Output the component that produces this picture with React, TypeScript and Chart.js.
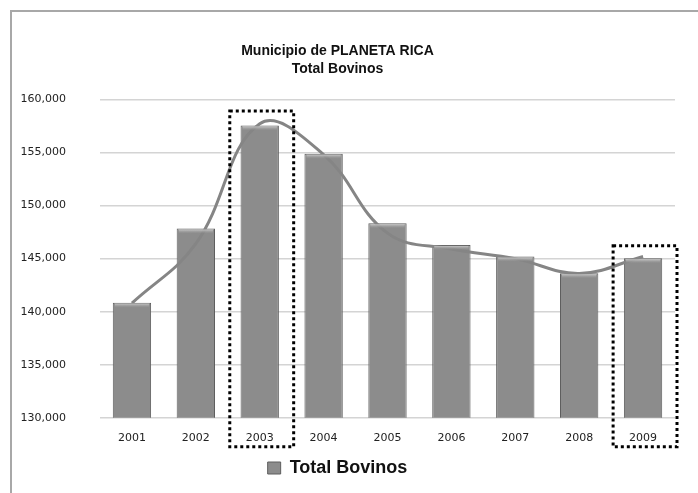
import React, { useEffect, useRef } from "react";
import { Chart, registerables } from "chart.js";

Chart.register(...registerables);

const categories = ["2001", "2002", "2003", "2004", "2005", "2006", "2007", "2008", "2009"];
const totalBovinos = [140850, 147830, 157550, 154880, 148330, 146290, 145190, 143615, 145030];
const trendValues = [140800, 146400, 157700, 154800, 147400, 145900, 145000, 143600, 145200];
const yMin = 130000;
const yMax = 160000;
const yStep = 5000;
const highlightedYears = ["2003", "2009"];
const highlightTops = [158900, 146200];
const titleLines = ["Municipio de PLANETA RICA", "Total Bovinos"];

const barTopPlugin = {
  id: "barTop",
  afterDatasetsDraw(chart: any) {
    const meta = chart.getDatasetMeta(0);
    const ctx = chart.ctx;
    ctx.save();
    meta.data.forEach((bar: any) => {
      const { x, y, width } = bar.getProps(["x", "y", "width"], true);
      const g = ctx.createLinearGradient(0, y, 0, y + 5);
      g.addColorStop(0, "#e0e0e0");
      g.addColorStop(1, "rgba(160,160,160,0)");
      ctx.fillStyle = g;
      ctx.fillRect(x - width / 2 + 2, y + 1, width - 4, 5);
    });
    ctx.restore();
  },
};

const highlightPlugin = {
  id: "highlightBoxes",
  afterDraw(chart: any) {
    const xs = chart.scales.x;
    const ys = chart.scales.y;
    const ctx = chart.ctx;
    const catW = (xs.right - xs.left) / categories.length;
    ctx.save();
    ctx.strokeStyle = "#000";
    ctx.lineWidth = 3;
    ctx.setLineDash([3, 3]);
    highlightedYears.forEach((yr, i) => {
      const idx = categories.indexOf(yr);
      const cx = xs.getPixelForValue(idx);
      const left = cx - catW / 2 + 2;
      const right = cx + catW / 2 + 2;
      const top = ys.getPixelForValue(highlightTops[i]);
      const bottom = ys.bottom + 29;
      ctx.strokeRect(left, top, right - left, bottom - top);
    });
    ctx.restore();
  },
};

export default function App() {
  const ref = useRef<HTMLCanvasElement | null>(null);
  useEffect(() => {
    if (!ref.current) return;
    const chart = new Chart(ref.current, {
      type: "bar",
      data: {
        labels: categories,
        datasets: [
          {
            type: "bar",
            label: "Total Bovinos",
            data: totalBovinos,
            backgroundColor: "#8c8c8c",
            borderColor: "#5e5e5e",
            borderWidth: 1,
            barPercentage: 0.6,
            categoryPercentage: 1,
            order: 2,
          },
          {
            type: "line",
            label: "Tendencia",
            data: trendValues,
            borderColor: "#858585",
            borderWidth: 3,
            pointRadius: 0,
            tension: 0.4,
            fill: false,
            order: 0,
          } as any,
        ],
      },
      options: {
        responsive: false,
        animation: false,
        devicePixelRatio: 1,
        layout: { padding: { left: 0, right: 23, top: 0, bottom: 6 } },
        plugins: {
          title: {
            display: true,
            text: titleLines,
            color: "#111",
            font: { family: "Liberation Sans", size: 14, weight: "bold", lineHeight: 1.3 },
            padding: { top: 42, bottom: 21 },
          },
          legend: {
            position: "bottom",
            labels: {
              filter: (item: any) => item.datasetIndex === 0,
              color: "#111",
              boxWidth: 13,
              boxHeight: 12,
              font: { family: "Liberation Sans", size: 18, weight: "bold" },
              padding: 8,
            },
          },
          tooltip: { enabled: false },
        },
        scales: {
          x: {
            grid: { display: false },
            border: { display: false },
            ticks: { color: "#222", font: { family: "DejaVu Sans", size: 11 }, padding: 6 },
          },
          y: {
            min: yMin,
            max: yMax,
            grid: { color: "#d4d4d4", lineWidth: 1.5, drawTicks: false },
            border: { display: false },
            ticks: {
              stepSize: yStep,
              color: "#222",
              font: { family: "DejaVu Sans", size: 11 },
              padding: 34,
              callback: (v: any) => Number(v).toLocaleString("en-US"),
            },
            afterFit: (s: any) => {
              s.width = 100;
            },
          },
        },
      },
      plugins: [barTopPlugin, highlightPlugin],
    });
    return () => chart.destroy();
  }, []);

  return (
    <div style={{ position: "fixed", left: 0, top: 0, width: 698, height: 493, background: "#fff", overflow: "hidden" }}>
      <div
        style={{
          position: "absolute",
          left: 10,
          top: 10,
          width: 800,
          height: 600,
          borderLeft: "2px solid #a8a8a8",
          borderTop: "2px solid #a8a8a8",
        }}
      />
      <canvas ref={ref} width={698} height={493} style={{ position: "absolute", left: 0, top: 0 }} />
    </div>
  );
}
